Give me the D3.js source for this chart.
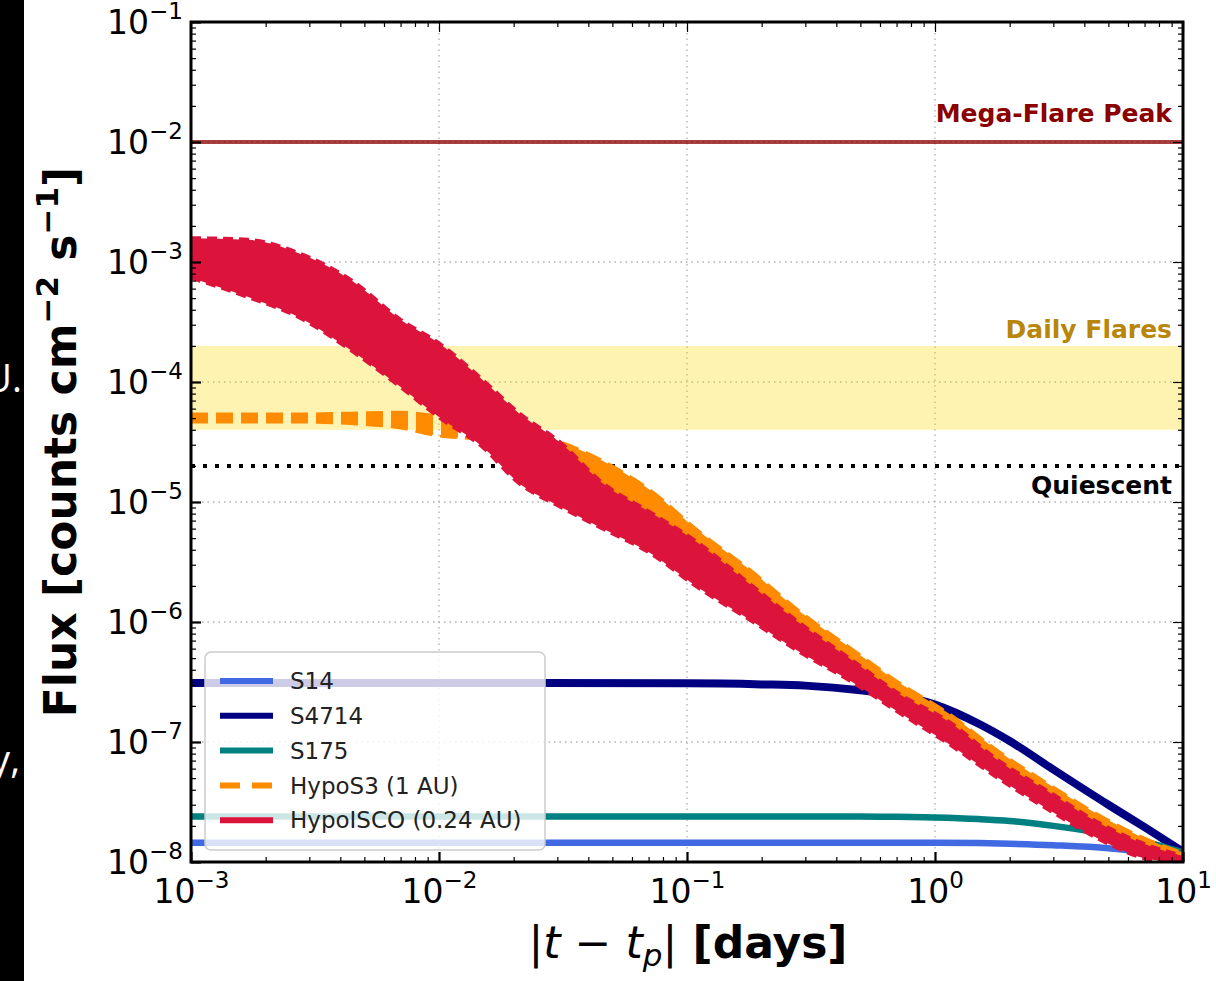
<!DOCTYPE html>
<html>
<head>
<meta charset="utf-8">
<script src="https://cdn.jsdelivr.net/npm/d3@7/dist/d3.min.js"></script>
<style>
	body { margin: 0; background: #fff; }
	svg { display: block; font-family: "DejaVu Sans", sans-serif; }
</style>
</head>
<body>
<svg id="chart" width="1216" height="981"></svg>
<script>
// time grid (days) for the stellar sources
var tStar = [0.001, 0.01, 0.1, 0.2, 0.3, 0.5, 0.7, 1, 1.5, 2, 3, 5, 7, 10];
var s14 = [1.45e-8, 1.45e-8, 1.45e-8, 1.45e-8, 1.45e-8, 1.45e-8, 1.45e-8, 1.45e-8, 1.44e-8, 1.42e-8, 1.38e-8, 1.3e-8, 1.2e-8, 1.03e-8];
var s4714 = [3.1e-7, 3.1e-7, 3.08e-7, 3.02e-7, 2.95e-7, 2.7e-7, 2.45e-7, 2.05e-7, 1.42e-7, 1.02e-7, 5.9e-8, 3.0e-8, 1.95e-8, 1.22e-8];
var s175 = [2.4e-8, 2.4e-8, 2.4e-8, 2.4e-8, 2.4e-8, 2.4e-8, 2.38e-8, 2.35e-8, 2.28e-8, 2.2e-8, 2.0e-8, 1.7e-8, 1.48e-8, 1.2e-8];

// time grid for the two hypothetical stars (noisy: kept as upper / lower envelope)
var tHypo = [0.001, 0.0017, 0.0027, 0.0044, 0.007, 0.01, 0.015, 0.021, 0.031, 0.045, 0.071, 0.11, 0.18, 0.29, 0.45, 0.72, 1.15, 1.8, 2.9, 4.6, 7.4, 10];
var hypoS3Hi = [5.4e-5, 5.4e-5, 5.4e-5, 5.5e-5, 5.6e-5, 5.2e-5, 4.64e-5, 4.0e-5, 3.16e-5, 2.24e-5, 1.26e-5, 5.85e-6, 2.71e-6, 1.19e-6, 6.2e-7, 3.1e-7, 1.7e-7, 8.4e-8, 4.4e-8, 2.45e-8, 1.5e-8, 1.2e-8];
var hypoS3Lo = [4.64e-5, 4.64e-5, 4.64e-5, 4.5e-5, 4.14e-5, 3.55e-5, 3.29e-5, 2.46e-5, 1.68e-5, 1.21e-5, 7.1e-6, 3.29e-6, 1.53e-6, 7.5e-7, 4.2e-7, 2.11e-7, 1.15e-7, 6.2e-8, 3.1e-8, 1.75e-8, 1.12e-8, 1.0e-8];
var hypoIscoHi = [1.58e-3, 1.53e-3, 1.19e-3, 7.1e-4, 3.3e-4, 2.1e-4, 1.04e-4, 5.5e-5, 3.1e-5, 1.47e-5, 8.2e-6, 4.6e-6, 2.05e-6, 9.5e-7, 5.0e-7, 2.5e-7, 1.45e-7, 7.0e-8, 3.8e-8, 2.1e-8, 1.35e-8, 1.12e-8];
var hypoIscoLo = [7.4e-4, 5.1e-4, 3.5e-4, 1.85e-4, 9.1e-5, 5.1e-5, 2.87e-5, 1.44e-5, 9.1e-6, 6.1e-6, 3.76e-6, 1.96e-6, 1.04e-6, 5.5e-7, 3.29e-7, 1.75e-7, 9.5e-8, 5.0e-8, 2.7e-8, 1.55e-8, 1.05e-8, 1.0e-8];

// reference levels
var megaFlare = 1e-2;
var dailyBand = [4e-5, 2e-4];
var quiescent = 2e-5;

var xMajor = [1e-3, 1e-2, 1e-1, 1e0, 1e1];
var yMajor = [1e-8, 1e-7, 1e-6, 1e-5, 1e-4, 1e-3, 1e-2, 1e-1];
var xExp = ['\u22123', '\u22122', '\u22121', '0', '1'];
var yExp = ['\u22128', '\u22127', '\u22126', '\u22125', '\u22124', '\u22123', '\u22122', '\u22121'];

var legendNames = ['S14', 'S4714', 'S175', 'HypoS3 (1 AU)', 'HypoISCO (0.24 AU)'];
var legendColors = ['#4169e1', '#000080', '#008080', '#ff8c00', '#dc143c'];

var svg = d3.select('#chart');
var L = 191, R = 1183, T = 22, B = 862;

var x = d3.scaleLog().domain([1e-3, 10]).range([L, R]);
var y = d3.scaleLog().domain([1e-8, 1e-1]).range([B, T]);

function minors(lo, hi) {
	var out = [];
	for (var e = lo; e < hi; e++) {
		for (var k = 2; k < 10; k++) out.push(k * Math.pow(10, e));
	}
	return out;
}

// slide edge on the left
svg.append('rect').attr('x', 0).attr('y', 0).attr('width', 24).attr('height', 981).attr('fill', '#000');
var strip = svg.append('g').attr('fill', '#fff').attr('font-family', '"Open Sans", sans-serif').attr('font-size', 38);
strip.append('text').attr('x', 22).attr('y', 392).attr('text-anchor', 'end').text('AU.');
strip.append('text').attr('x', 20).attr('y', 773).attr('text-anchor', 'end').text('ly,');

var defs = svg.append('defs');
defs.append('clipPath').attr('id', 'plotClip')
	.append('rect').attr('x', L).attr('y', T).attr('width', R - L).attr('height', B - T);

// the orange curve reads as a dashed line only where it is flat (around its plateau level)
var gapTop = y(hypoS3Hi[0] * 1.25), gapBot = y(hypoS3Lo[0] * 0.7);
var patO = defs.append('pattern').attr('id', 'dashOrange').attr('patternUnits', 'userSpaceOnUse')
	.attr('x', L).attr('y', 0).attr('width', 25).attr('height', 981);
patO.append('rect').attr('width', 25).attr('height', gapTop).attr('fill', '#ff8c00');
patO.append('rect').attr('y', gapTop).attr('width', 17).attr('height', gapBot - gapTop).attr('fill', '#ff8c00');
patO.append('rect').attr('y', gapBot).attr('width', 25).attr('height', 981 - gapBot).attr('fill', '#ff8c00');

var plot = svg.append('g').attr('clip-path', 'url(#plotClip)');

// grid
plot.append('g').selectAll('line').data(xMajor.slice(1, -1)).join('line')
	.attr('x1', d => x(d)).attr('x2', d => x(d)).attr('y1', T).attr('y2', B)
	.attr('stroke', '#b0b0b0').attr('stroke-width', 1.3).attr('stroke-dasharray', '1.5,4');
plot.append('g').selectAll('line').data(yMajor.slice(1, -1)).join('line')
	.attr('y1', d => y(d)).attr('y2', d => y(d)).attr('x1', L).attr('x2', R)
	.attr('stroke', '#b0b0b0').attr('stroke-width', 1.3).attr('stroke-dasharray', '1.5,4');

// daily flare band, mega-flare and quiescent levels
plot.append('rect').attr('x', L).attr('width', R - L)
	.attr('y', y(dailyBand[1])).attr('height', y(dailyBand[0]) - y(dailyBand[1]))
	.attr('fill', '#ffd700').attr('fill-opacity', 0.3);
plot.append('line').attr('x1', L).attr('x2', R).attr('y1', y(megaFlare)).attr('y2', y(megaFlare))
	.attr('stroke', '#8b0000').attr('stroke-opacity', 0.75).attr('stroke-width', 4);
plot.append('line').attr('x1', L).attr('x2', R).attr('y1', y(quiescent)).attr('y2', y(quiescent))
	.attr('stroke', '#000').attr('stroke-width', 4).attr('stroke-dasharray', '4,8');

// stellar sources
var line = d3.line().x(d => x(d[0])).y(d => y(d[1])).curve(d3.curveMonotoneX);
[s14, s4714, s175].forEach(function (vals, i) {
	plot.append('path').datum(tStar.map((t, j) => [t, vals[j]]))
		.attr('d', line).attr('fill', 'none')
		.attr('stroke', legendColors[i]).attr('stroke-width', i === 1 ? 8 : 6.5);
});

// hypothetical stars: noisy bands
var band = d3.area().x(d => x(d[0])).y0(d => y(d[1])).y1(d => y(d[2])).curve(d3.curveMonotoneX);
var edge = d3.line().x(d => x(d[0])).y(d => y(d[1])).curve(d3.curveMonotoneX);

function drawBand(hi, lo, fill, color, dash, w) {
	var rows = tHypo.map((t, j) => [t, lo[j], hi[j]]);
	plot.append('path').datum(rows).attr('d', band).attr('fill', fill);
	[hi, lo].forEach(function (v) {
		plot.append('path').datum(tHypo.map((t, j) => [t, v[j]]))
			.attr('d', edge).attr('fill', 'none').attr('stroke', color)
			.attr('stroke-width', w).attr('stroke-dasharray', dash);
	});
}
drawBand(hypoS3Hi, hypoS3Lo, 'url(#dashOrange)', '#ff8c00', '17,8', 3);
drawBand(hypoIscoHi, hypoIscoLo, '#dc143c', '#dc143c', '10,6', 4);

// reference labels
var lab = svg.append('g').attr('font-weight', 'bold').attr('font-size', 25).attr('text-anchor', 'end');
lab.append('text').attr('x', 1172).attr('y', 122).attr('fill', '#8b0000').text('Mega-Flare Peak');
lab.append('text').attr('x', 1172).attr('y', 338).attr('fill', '#b8860b').text('Daily Flares');
lab.append('text').attr('x', 1172).attr('y', 494).attr('fill', '#000').text('Quiescent');

// legend
var lg = svg.append('g');
lg.append('rect').attr('x', 205).attr('y', 652).attr('width', 340).attr('height', 198).attr('rx', 6)
	.attr('fill', '#fff').attr('fill-opacity', 0.8).attr('stroke', '#cccccc').attr('stroke-width', 1.5);
legendNames.forEach(function (name, i) {
	var cy = 681 + i * 34.8;
	lg.append('line').attr('x1', 220).attr('x2', 273).attr('y1', cy).attr('y2', cy)
		.attr('stroke', legendColors[i]).attr('stroke-width', 6)
		.attr('stroke-dasharray', i === 3 ? '20,12' : null);
	lg.append('text').attr('x', 290).attr('y', cy).attr('dy', '0.36em')
		.attr('font-size', 23).attr('fill', '#222').text(name);
});

// axes: ticks inward on all four sides
function tickLabel(sel, exps, vals) {
	sel.selectAll('.tick text').each(function (d) {
		var t = d3.select(this).text('');
		var k = vals.indexOf(d);
		t.append('tspan').text('10');
		t.append('tspan').attr('dy', -15).attr('font-size', 23).text(exps[k]);
	});
}
var gx = svg.append('g').attr('transform', 'translate(0,' + B + ')')
	.call(d3.axisBottom(x).tickValues(xMajor).tickSize(-10).tickPadding(8));
gx.selectAll('.tick text').attr('dy', '1.0em');
tickLabel(gx, xExp, xMajor);
svg.append('g').attr('transform', 'translate(0,' + B + ')')
	.call(d3.axisBottom(x).tickValues(minors(-3, 1)).tickSize(-5).tickFormat(''));
svg.append('g').attr('transform', 'translate(0,' + T + ')')
	.call(d3.axisTop(x).tickValues(xMajor).tickSize(-10).tickFormat(''));
svg.append('g').attr('transform', 'translate(0,' + T + ')')
	.call(d3.axisTop(x).tickValues(minors(-3, 1)).tickSize(-5).tickFormat(''));

var gy = svg.append('g').attr('transform', 'translate(' + L + ',0)')
	.call(d3.axisLeft(y).tickValues(yMajor).tickSize(-10).tickPadding(8));
gy.selectAll('.tick text').attr('dy', '0.36em');
tickLabel(gy, yExp, yMajor);
svg.append('g').attr('transform', 'translate(' + L + ',0)')
	.call(d3.axisLeft(y).tickValues(minors(-8, -1)).tickSize(-5).tickFormat(''));
svg.append('g').attr('transform', 'translate(' + R + ',0)')
	.call(d3.axisRight(y).tickValues(yMajor).tickSize(-10).tickFormat(''));
svg.append('g').attr('transform', 'translate(' + R + ',0)')
	.call(d3.axisRight(y).tickValues(minors(-8, -1)).tickSize(-5).tickFormat(''));

svg.selectAll('.domain').remove();
svg.selectAll('.tick line').attr('stroke', '#000').attr('stroke-width', 1.2);
svg.selectAll('.tick text').attr('font-size', 33).attr('font-family', '"DejaVu Sans", sans-serif').attr('fill', '#000');
gx.selectAll('.tick line').attr('stroke-width', 2.2);
gy.selectAll('.tick line').attr('stroke-width', 2.2);

svg.append('rect').attr('x', L).attr('y', T).attr('width', R - L).attr('height', B - T)
	.attr('fill', 'none').attr('stroke', '#000').attr('stroke-width', 3);

// axis titles
var xt = svg.append('text').attr('x', 688).attr('y', 958).attr('text-anchor', 'middle').attr('font-size', 44);
xt.append('tspan').text('|');
xt.append('tspan').attr('font-style', 'italic').text('t');
xt.append('tspan').text(' \u2212 ');
xt.append('tspan').attr('font-style', 'italic').text('t');
xt.append('tspan').attr('font-style', 'italic').attr('font-size', 31).attr('dy', 8).text('p');
xt.append('tspan').attr('dy', -8).text('|');
xt.append('tspan').attr('font-weight', 'bold').text(' [days]');

var yt = svg.append('text').attr('transform', 'translate(76,442) rotate(-90)')
	.attr('text-anchor', 'middle').attr('font-size', 44).attr('font-weight', 'bold');
yt.append('tspan').text('Flux [counts cm');
yt.append('tspan').attr('dy', -18).attr('font-size', 31).text('\u22122');
yt.append('tspan').attr('dy', 18).text(' s');
yt.append('tspan').attr('dy', -18).attr('font-size', 31).text('\u22121');
yt.append('tspan').attr('dy', 18).text(']');
</script>
</body>
</html>
